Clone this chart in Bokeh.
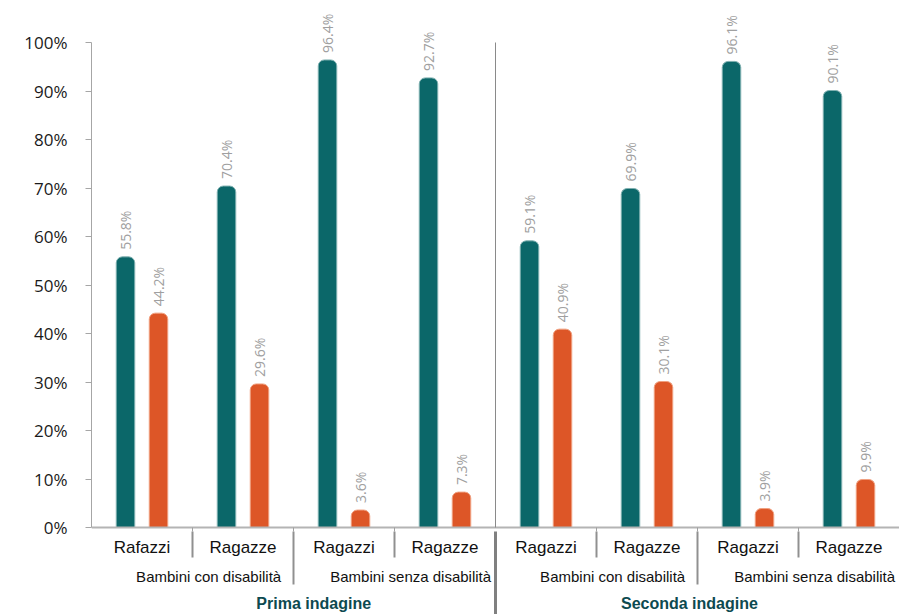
import numpy as np
from bokeh.plotting import figure
from bokeh.models import Range1d, FixedTicker, PrintfTickFormatter
from bokeh.core.properties import value
from bokeh.embed import file_html
from bokeh.resources import INLINE

# ---------------- data ----------------
genders = ["Rafazzi", "Ragazze", "Ragazzi", "Ragazze",
           "Ragazzi", "Ragazze", "Ragazzi", "Ragazze"]
groups = ["Bambini con disabilità", "Bambini senza disabilità",
          "Bambini con disabilità", "Bambini senza disabilità"]
surveys = ["Prima indagine", "Seconda indagine"]
teal_vals = [55.8, 70.4, 96.4, 92.7, 59.1, 69.9, 96.1, 90.1]
orange_vals = [44.2, 29.6, 3.6, 7.3, 40.9, 30.1, 3.9, 9.9]
y_ticks = list(range(0, 101, 10))

# ---------------- layout ----------------
W, H = 899, 614
LEFT = 91
PX100 = 42      # screen y of 100%
PX0 = 527       # screen y of 0%
PPU = (PX0 - PX100) / 100.0   # pixels per percent
y_top = PX0 / PPU
y_bot = -(H - PX0) / PPU


def d(px):
    """pixels -> y data units"""
    return px / PPU


n = len(genders)
cat_px = (W - LEFT) / n
off = 16.5 / cat_px
bw = 18.5 / cat_px
xs = np.arange(n) + 0.5

TEAL = "#0b6769"
ORANGE = "#dd5627"

p = figure(width=W, height=H, x_range=Range1d(0, n), y_range=Range1d(y_bot, y_top),
           output_backend="svg", toolbar_location=None,
           min_border_left=LEFT, min_border_right=0, min_border_top=0, min_border_bottom=0)
p.grid.visible = False
p.outline_line_color = None
p.xaxis.visible = False
p.background_fill_color = "white"

# bars
p.vbar(x=xs - off, top=teal_vals, bottom=0, width=bw, fill_color=TEAL,
       line_color="#7fb0b0", line_width=1, border_radius=(6, 6, 0, 0))
p.vbar(x=xs + off, top=orange_vals, bottom=0, width=bw, fill_color=ORANGE,
       line_color="#f0a080", line_width=1, border_radius=(6, 6, 0, 0))

# value labels
lbl_kw = dict(angle=np.pi / 2, text_align="left", text_baseline="middle", y_offset=-7,
              text_font=value("Open Sans"), text_font_size="14px", text_color="#a0a0a0")
p.text(x=xs - off, y=teal_vals, text=[f"{v}%" for v in teal_vals], **lbl_kw)
p.text(x=xs + off, y=orange_vals, text=[f"{v}%" for v in orange_vals], **lbl_kw)

# x axis line and small ticks
p.segment(x0=[0], y0=[0], x1=[n], y1=[0], line_color="#b4b4b4", line_width=2)
bounds = np.arange(1, n)
minor_b = [b for b in bounds if b != n // 2]
p.segment(x0=minor_b, y0=[0] * len(minor_b), x1=minor_b, y1=[-d(4)] * len(minor_b),
          line_color="#a0a0a0", line_width=1)

# separators below the axis
row1_b = [b for b in bounds if b % 2 == 1]
row2_b = [b for b in bounds if b % 2 == 0 and b != n // 2]
p.segment(x0=row1_b, y0=[-d(4)] * len(row1_b), x1=row1_b, y1=[-d(30)] * len(row1_b),
          line_color="#909090", line_width=2)
p.segment(x0=row2_b, y0=[-d(4)] * len(row2_b), x1=row2_b, y1=[-d(57)] * len(row2_b),
          line_color="#909090", line_width=2)
mid = n // 2
p.segment(x0=[mid], y0=[-d(4)], x1=[mid], y1=[y_bot], line_color="#808080", line_width=3)
p.segment(x0=[mid], y0=[0], x1=[mid], y1=[100], line_color="#8a8a8a", line_width=1)

# category text rows
p.text(x=xs, y=[-d(20)] * n, text=genders, text_align="center", text_baseline="middle",
       text_font=value("Liberation Sans"), text_font_size="17px", text_color="#111111")
group_x = np.arange(len(groups)) * 2 + 1 + 0.16
p.text(x=group_x, y=[-d(49)] * len(groups), text=groups, text_align="center",
       text_baseline="middle", text_font=value("Liberation Sans"), text_font_size="15px",
       text_color="#111111")
survey_x = np.arange(len(surveys)) * 4 + 2 + np.array([0.2, -0.08])
p.text(x=survey_x, y=[-d(76)] * len(surveys), text=surveys, text_align="center",
       text_baseline="middle", text_font=value("Liberation Sans"), text_font_size="16px",
       text_font_style="bold", text_color="#0d4a50")

# y axis
ya = p.yaxis[0]
ya.ticker = FixedTicker(ticks=y_ticks)
ya.formatter = PrintfTickFormatter(format="%d%%")
ya.bounds = (0, 100)
ya.axis_line_color = "#a6a6a6"
ya.major_tick_line_color = "#a6a6a6"
ya.major_tick_out = 6
ya.major_tick_in = 0
ya.minor_tick_line_color = None
ya.major_label_standoff = 18
ya.major_label_text_font = "Open Sans"
ya.major_label_text_font_size = "17px"
ya.major_label_text_color = "#1a1a1a"

open("out.html", "w").write(file_html(p, INLINE))
